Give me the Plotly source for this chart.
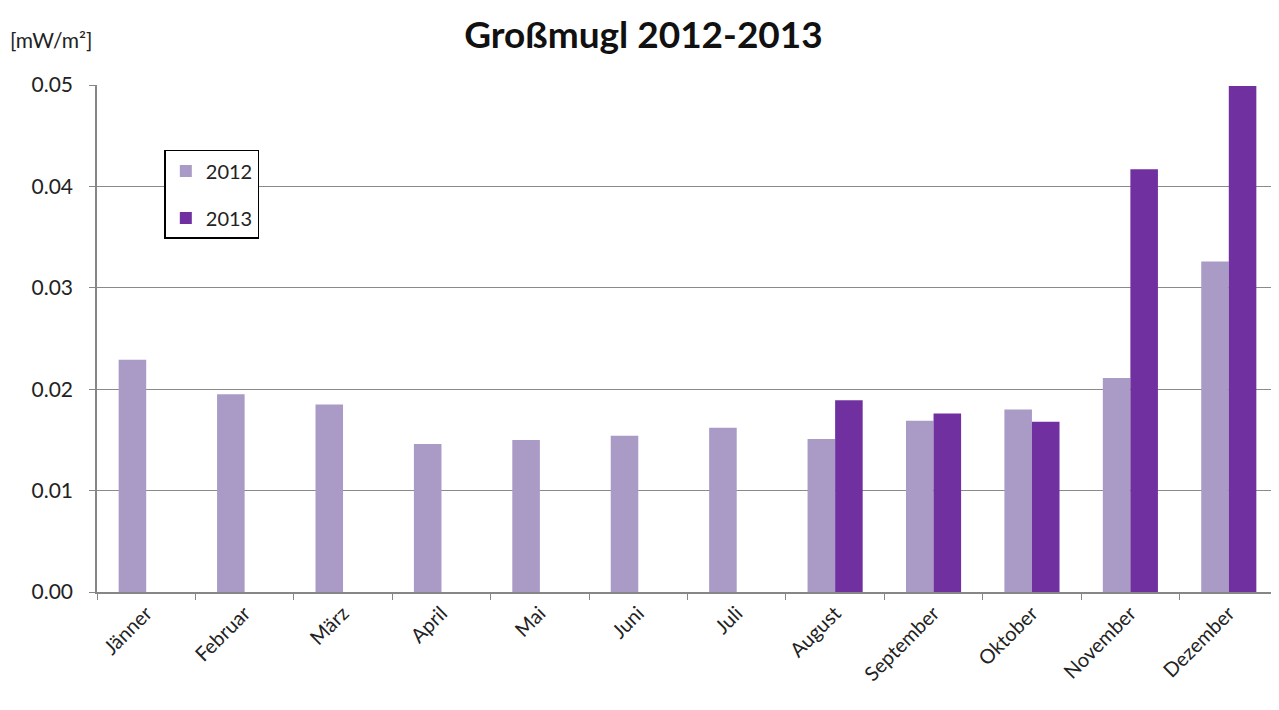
import plotly.graph_objects as go

months = ["Jänner", "Februar", "März", "April", "Mai", "Juni", "Juli",
          "August", "September", "Oktober", "November", "Dezember"]
v2012 = [0.0229, 0.0195, 0.0185, 0.0146, 0.0150, 0.0154, 0.0162,
         0.0151, 0.0169, 0.0180, 0.0211, 0.0326]
v2013 = [None, None, None, None, None, None, None,
         0.0189, 0.0176, 0.0168, 0.0417, 0.0499]
yticks = [0.0, 0.01, 0.02, 0.03, 0.04, 0.05]

font_family = "Lato, Open Sans, sans-serif"

fig = go.Figure()
fig.add_trace(go.Bar(x=months, y=v2012, name="2012", marker_color="#A99BC6",
                     marker_line_width=0, legendgroup="a"))
fig.add_trace(go.Bar(x=months, y=v2013, name="2013", marker_color="#7030A0",
                     marker_line_width=0, legendgroup="b"))

fig.update_layout(
    width=1271, height=702,
    paper_bgcolor="white", plot_bgcolor="white",
    barmode="group", bargap=0.44, bargroupgap=0.0,
    margin=dict(l=89, r=1, t=77, b=118),
    font=dict(family=font_family, color="#222", size=18),
    title=dict(text="<b>Großmugl 2012-2013</b>", x=0.5, xanchor="center",
               y=0.962, yanchor="middle", font=dict(size=37, color="#111")),
    legend=dict(x=0.057, y=0.872, xanchor="left", yanchor="top",
                bordercolor="black", borderwidth=1.5, bgcolor="white",
                font=dict(size=20, color="#222"), tracegroupgap=18,
                itemwidth=30),
    showlegend=True,
)
fig.update_xaxes(showline=True, linecolor="#868686", linewidth=1.5,
                 ticks="outside", tickson="boundaries", ticklen=6,
                 tickcolor="#868686", tickangle=-45,
                 tickfont=dict(size=20, color="#222"), showgrid=False)
fig.update_yaxes(range=[0, 0.05], tickvals=yticks, tickformat=".2f",
                 showline=True, linecolor="#868686", linewidth=1.5,
                 ticks="outside", ticklen=6, tickcolor="#868686",
                 ticklabelstandoff=12,
                 showgrid=True, gridcolor="#8a8a8a", gridwidth=1.2,
                 zeroline=False, tickfont=dict(size=21, color="#222"))
fig.add_annotation(text="[mW/m²]", xref="paper", yref="paper",
                   x=-0.075, y=1.089, xanchor="left", yanchor="middle",
                   showarrow=False, font=dict(size=21, color="#222"))

fig.write_html("out.html")
